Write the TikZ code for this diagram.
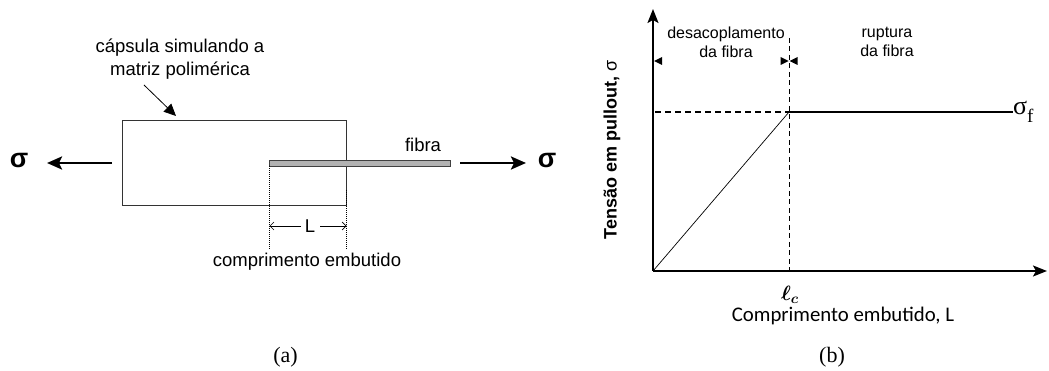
\documentclass[tikz,border=0pt]{standalone}
\usepackage{fontspec}
\usepackage{amsmath,bm}
\setmainfont{Liberation Sans}
\newfontfamily\serifp{Liberation Serif}
\newfontfamily\carl{Carlito}
\usetikzlibrary{arrows.meta}
\tikzset{
  lbl/.style={inner sep=0pt, font=\fontsize{18.5}{20}\selectfont},
  thinlbl/.style={inner sep=0pt, font=\fontsize{16}{19}\selectfont, align=center},
  capt/.style={inner sep=0pt, font=\serifp\fontsize{22}{24}\selectfont},
  bigsig/.style={inner sep=0pt, font=\bfseries\fontsize{27}{30}\selectfont},
  force/.style={line width=2.6pt, -{Stealth[length=15pt,width=13pt,inset=3pt]}},
  dimar/.style={line width=0.6pt, -{Straight Barb[length=4pt,width=8pt]}},
  guide/.style={line width=0.7pt, dash pattern=on 1.5pt off 1pt on 0.5pt off 1pt},
  axisar/.style={line width=1.8pt, -{Stealth[length=14pt,width=11pt,inset=3pt]}},
}
\begin{document}
\begin{tikzpicture}[x=1pt,y=-1pt]
\useasboundingbox (0,0) rectangle (1049,371);
% ---------- panel (a)
\node[bigsig] (sl) at (19,161) {σ};
\node[bigsig] (sr) at (547,161) {σ};
\coordinate (fl0) at (112,163); \coordinate (fl1) at (47,163);
\coordinate (fr0) at (460,163); \coordinate (fr1) at (526,163);
\draw[force] (fl0) -- (fl1);
\draw[force] (fr0) -- (fr1);
\draw[draw=black!80, line width=1pt] (122,121) rectangle (346,206);
\coordinate (box) at (176,116);
\draw[draw=black!75, fill=black!30, line width=0.8pt] (269,160.5) rectangle (450,166);
\node[lbl, anchor=south] (fibra) at (423,152) {fibra};
\node[lbl] (cap1) at (180,48) {cápsula simulando a};
\node[lbl] (cap2) at (180,71) {matriz polimérica};
\coordinate (ann0) at (144,85);
\draw[line width=0.8pt, -{Triangle[length=12pt,width=11pt]}] (ann0) -- (box);
\coordinate (g1a) at (269,166); \coordinate (g1b) at (269,250);
\coordinate (g2a) at (346,190); \coordinate (g2b) at (346,250);
\draw[guide] (g1a) -- (g1b);
\draw[guide] (g2a) -- (g2b);
\node[lbl] (L) at (310,226) {L};
\coordinate (la) at (269.5,226); \coordinate (lb) at (346.5,226);
\draw[dimar] (L.west) ++(-4,0) -- (la);
\draw[dimar] (L.east) ++(5,0) -- (lb);
\node[lbl] (emb) at (307,262) {comprimento embutido};
\node[capt] (a) at (285.5,357) {(a)};
% ---------- panel (b)
\coordinate (O) at (653,271);
\coordinate (Ytop) at (653,9);
\coordinate (Xend) at (1047,271);
\draw[axisar] (O) -- (Ytop);
\draw[axisar] (O) -- (Xend);
\coordinate (P) at (789,112);
\coordinate (Pl) at (655,112);
\coordinate (Pr) at (1013,112);
\coordinate (Vt) at (789,38);
\coordinate (Vb) at (789,271);
\draw[line width=1.5pt, dash pattern=on 6pt off 4pt] (Pl) -- (P);
\draw[line width=1.8pt] (P) -- (Pr);
\draw[line width=0.8pt, dash pattern=on 5pt off 3.5pt] (Vt) -- (Vb);
\draw[line width=0.7pt] (O) -- (P);
\node[inner sep=0pt, anchor=west, font=\serifp\fontsize{26}{28}\selectfont] (sf) at (1013,112) {σ\raisebox{-8pt}{\fontsize{19}{20}\selectfont f}};
% region markers
\fill (654,61) -- (662,57) -- (662,65) -- cycle;
\fill (788.5,61) -- (780.5,57) -- (780.5,65) -- cycle;
\fill (789.5,61) -- (797.5,57) -- (797.5,65) -- cycle;
\node[thinlbl] (des) at (726,42) {desacoplamento\\da fibra};
\node[thinlbl] (rup) at (887,42) {ruptura\\da fibra};
\node[inner sep=0pt, rotate=90, font=\fontsize{18}{20}\selectfont] (ylab) at (612,150) {\textbf{Tensão em pullout,} σ};
\node[inner sep=0pt, font=\fontsize{21}{23}\selectfont] (lcn) at (790,295) {$\bm{\ell}_{\bm{c}}$};
\node[inner sep=0pt, font=\carl\fontsize{20.8}{23}\selectfont] (xlab) at (843,316) {Comprimento embutido, L};
\node[capt] (b) at (832,357) {(b)};
\end{tikzpicture}
\end{document}
